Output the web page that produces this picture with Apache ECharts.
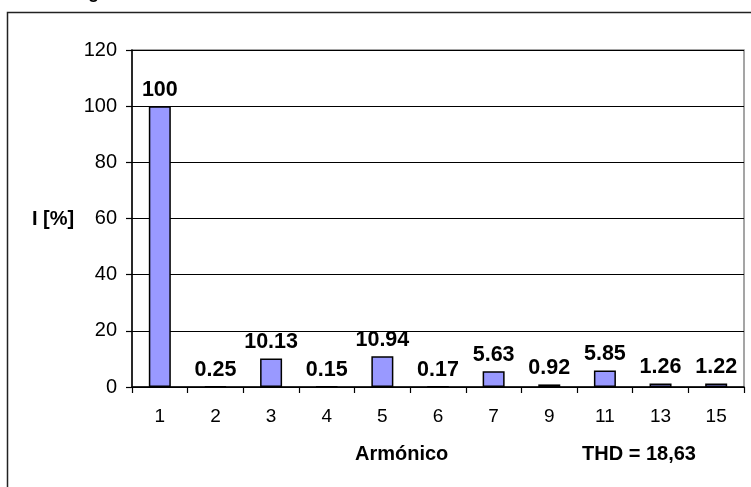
<!DOCTYPE html>
<html><head><meta charset="utf-8">
<script src="https://cdn.jsdelivr.net/npm/echarts@6/dist/echarts.min.js"></script>
<style>html,body{margin:0;padding:0;background:#fff}#c{width:751px;height:487px}</style>
</head><body><div id="c"></div>
<script>
const categories = ['1','2','3','4','5','6','7','9','11','13','15'];
const values = [100, 0.25, 10.13, 0.15, 10.94, 0.17, 5.63, 0.92, 5.85, 1.26, 1.22];
const yTicks = [0, 20, 40, 60, 80, 100, 120];
const FONT = 'Liberation Sans, Arial, sans-serif';
const chart = echarts.init(document.getElementById('c'));
chart.setOption({
  animation: false,
  grid: {left: 132, right: 7, top: 50, bottom: 100, show: true, borderColor: '#888', borderWidth: 1.5, backgroundColor: 'transparent'},
  xAxis: {
    type: 'category', data: categories,
    axisLine: {lineStyle: {color: '#000', width: 1.5}},
    axisTick: {show: true, length: 6, lineStyle: {color: '#000', width: 1.2}},
    axisLabel: {color: '#000', fontFamily: FONT, fontSize: 19, margin: 20}
  },
  yAxis: {
    type: 'value', min: yTicks[0], max: yTicks[yTicks.length - 1], interval: 20,
    axisLine: {show: true, lineStyle: {color: '#000', width: 1.5}},
    axisTick: {show: true, length: 6, lineStyle: {color: '#000', width: 1.2}},
    axisLabel: {color: '#000', fontFamily: FONT, fontSize: 20, margin: 15},
    splitLine: {show: true, lineStyle: {color: '#000', width: 1}}
  },
  series: [{
    type: 'bar', data: values, barWidth: 22,
    itemStyle: {color: '#9999FF', borderColor: '#000', borderWidth: 1.5},
    label: {show: true, position: 'top', distance: 5, color: '#000', fontFamily: FONT, fontSize: 21.5, fontWeight: 'bold'}
  }],
  graphic: [
    {type: 'rect', shape: {x: 7.5, y: 12.5, width: 760, height: 500}, style: {fill: 'none', stroke: '#222', lineWidth: 1.5}, silent: true},
    {type: 'text', left: 32, top: 209, style: {text: 'I [%]', fill: '#000', font: 'bold 20px ' + FONT}},
    {type: 'text', left: 355, top: 444, style: {text: 'Armónico', fill: '#000', font: 'bold 20px ' + FONT}},
    {type: 'text', left: 582, top: 444, style: {text: 'THD = 18,63', fill: '#000', font: 'bold 20px ' + FONT}},
    {type: 'text', left: 88, top: -16, style: {text: 'g', fill: '#000', font: 'bold 18px ' + FONT}}
  ]
});
</script></body></html>
